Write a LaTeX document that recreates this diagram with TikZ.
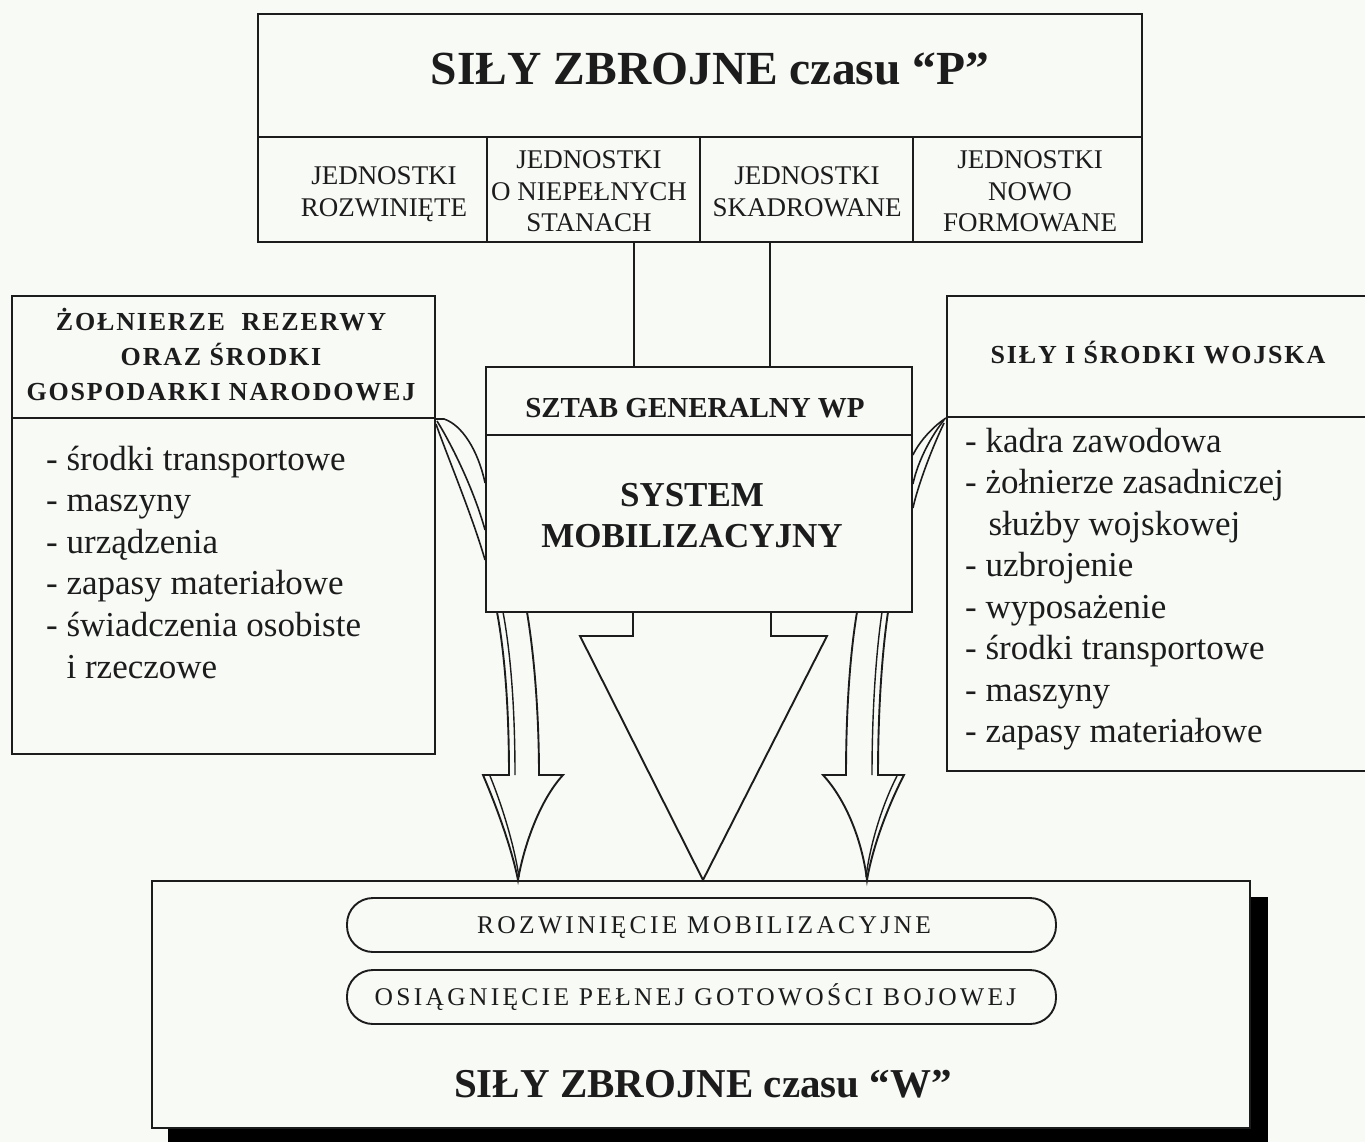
\documentclass[tikz,border=0pt]{standalone}
\usepackage{fontspec}
\setmainfont{Liberation Serif}
\newfontfamily\spacedfont[LetterSpace=7]{Liberation Serif}
\newfontfamily\widefont[LetterSpace=13]{Liberation Serif}
\definecolor{paper}{RGB}{248,250,246}
\definecolor{ink}{RGB}{28,28,28}
\begin{document}
\begin{tikzpicture}[x=1pt,y=-1pt,
  ln/.style={draw=ink,line width=1.9pt},
  fine/.style={draw=ink,line width=1.4pt},
  box/.style={ln,fill=paper,rectangle,inner sep=0pt},
  pill/.style={box,rounded corners=26pt},
  txt/.style={inner sep=0pt,text=ink},
  arrowbody/.style={ln,fill=paper,line join=miter},
  ribbon/.style={draw=ink,line width=1.6pt},
  ttl/.style={txt,anchor=base,font={\fontsize{47.5}{50}\selectfont\bfseries}},
  coltxt/.style={txt,anchor=base,align=center,font={\fontsize{27}{31.5}\selectfont}},
  hdr/.style={txt,anchor=base,align=center,font={\fontsize{26}{35}\selectfont\spacedfont\bfseries}},
  items/.style={txt,anchor=base west,align=left,font={\fontsize{35}{41.5}\selectfont}},
  pilltxt/.style={txt,anchor=base,font={\fontsize{25.5}{30}\selectfont\widefont}},
]
\useasboundingbox (0,0) rectangle (1365,1142);
\clip (0,0) rectangle (1365,1142);
\fill[paper] (0,0) rectangle (1365,1142);

% ---------- top: peace-time forces ----------
\node[box,minimum width=884pt,minimum height=123pt] (ptop) at (700,75.5) {};
\node[box,minimum width=229pt,minimum height=105pt] (c1) at (372.5,189.5) {};
\node[box,minimum width=213pt,minimum height=105pt] (c2) at (593.5,189.5) {};
\node[box,minimum width=213pt,minimum height=105pt] (c3) at (806.5,189.5) {};
\node[box,minimum width=229pt,minimum height=105pt] (c4) at (1027.5,189.5) {};
\node[ttl] (ttlP) at (710,85) {SIŁY ZBROJNE czasu “P”};
% (base anchor of a multi-line node = baseline of its last line)
\node[coltxt] (t1) at (384,216) {JEDNOSTKI\\ROZWINIĘTE};
\node[coltxt] (t2) at (589,232) {JEDNOSTKI\\O NIEPEŁNYCH\\STANACH};
\node[coltxt] (t3) at (807,216) {JEDNOSTKI\\SKADROWANE};
\node[coltxt] (t4) at (1030,232) {JEDNOSTKI\\NOWO\\FORMOWANE};

% ---------- bottom: war-time forces ----------
\fill[black] (168,897) rectangle (1268,1150);
\node[box,minimum width=1098pt,minimum height=247pt] (wbox) at (701,1004.5) {};
\node[pill,minimum width=709pt,minimum height=54pt] (p1) at (701.5,925) {};
\node[pill,minimum width=709pt,minimum height=54pt] (p2) at (701.5,997) {};
\node[pilltxt] (p1t) at (704,933) {ROZWINIĘCIE MOBILIZACYJNE};
\node[pilltxt] (p2t) at (695.5,1005) {OSIĄGNIĘCIE PEŁNEJ GOTOWOŚCI BOJOWEJ};
\node[ttl,font={\fontsize{41}{45}\selectfont\bfseries}] (ttlW) at (703,1097) {SIŁY ZBROJNE czasu “W”};

% ---------- downward arrows ----------
% left curved arrow
\path[arrowbody] (497,612) .. controls (506,660) and (509,720) .. (509,775)
  -- (483,775) .. controls (498,810) and (512,850) .. (518,880)
  .. controls (524,845) and (540,800) .. (563,775)
  -- (539,775) .. controls (539,720) and (535,660) .. (527,612);
\draw[fine] (503,612) .. controls (512,660) and (515,720) .. (515,775);
\draw[fine] (490,776) .. controls (504,810) and (515,850) .. (519,877);
% central triangular arrow
\path[arrowbody] (633,612) -- (633,636) -- (580,636) -- (703,880) -- (827,636) -- (771,636) -- (771,612);
% right curved arrow
\path[arrowbody] (857,612) .. controls (849,660) and (846,720) .. (846,775)
  -- (823,775) .. controls (846,800) and (862,840) .. (867,880)
  .. controls (872,850) and (886,810) .. (904,775)
  -- (878,775) .. controls (878,720) and (881,660) .. (888,612);
\draw[fine] (882,612) .. controls (875,660) and (872,720) .. (872,775);
\draw[fine] (897,776) .. controls (882,805) and (870,845) .. (866,877);

% ---------- general staff / mobilisation system ----------
\node[box,minimum width=426pt,minimum height=68pt] (sgw) at (699,401) {};
\node[box,minimum width=426pt,minimum height=177pt] (sys) at (699,523.5) {};
\node[txt,anchor=base,font={\fontsize{29}{32}\selectfont\bfseries}] (sgwT) at (695,417) {SZTAB GENERALNY WP};
\node[txt,anchor=base,align=center,font={\fontsize{35}{41}\selectfont\bfseries}] (sysT) at (692,547) {SYSTEM\\MOBILIZACYJNY};
\draw[ln] (634,0 |- c2.south) -- (634,0 |- sgw.north);
\draw[ln] (770,0 |- c3.south) -- (770,0 |- sgw.north);

% ---------- left box ----------
\node[box,minimum width=423pt,minimum height=122pt] (lh) at (223.5,357) {};
\node[box,minimum width=423pt,minimum height=336pt] (lb) at (223.5,586) {};
\node[hdr] (lhT) at (221,400) {ŻOŁNIERZE\ \ REZERWY\\ORAZ ŚRODKI\\GOSPODARKI NARODOWEJ};
\node[items,font={\fontsize{35}{41.6}\selectfont}] (lbT) at (46,678) {- środki transportowe\\- maszyny\\- urządzenia\\- zapasy materiałowe\\- świadczenia osobiste\\\phantom{- }i rzeczowe};

% ---------- right box ----------
\node[box,minimum width=433pt,minimum height=121pt] (rh) at (1163.5,356.5) {};
\node[box,minimum width=433pt,minimum height=354pt] (rb) at (1163.5,594) {};
\node[hdr] (rhT) at (1158,363) {SIŁY I ŚRODKI WOJSKA};
\node[items] (rbT) at (965,742.5) {- kadra zawodowa\\- żołnierze zasadniczej\\\phantom{- }\hspace*{3pt}służby wojskowej\\- uzbrojenie\\- wyposażenie\\- środki transportowe\\- maszyny\\- zapasy materiałowe};

% ---------- side ribbons into the system ----------
\draw[ribbon] (lh.south east) -- ++(8,0) .. controls (462,425) and (478,450) .. (sys.west |- 0,483);
\draw[ribbon] (lh.south east) ++(1,2) .. controls (452,445) and (474,490) .. (sys.west |- 0,530);
\draw[ribbon] (lh.south east) ++(0,5) .. controls (448,458) and (472,515) .. (sys.west |- 0,560);
\draw[ribbon] (rh.south west) .. controls (935,425) and (920,440) .. (sys.east |- 0,455);
\draw[ribbon] (rh.south west) ++(-2,2) .. controls (932,435) and (918,460) .. (sys.east |- 0,484);
\draw[ribbon] (rh.south west) ++(-2,5) .. controls (932,448) and (918,485) .. (sys.east |- 0,508);
\end{tikzpicture}
\end{document}
